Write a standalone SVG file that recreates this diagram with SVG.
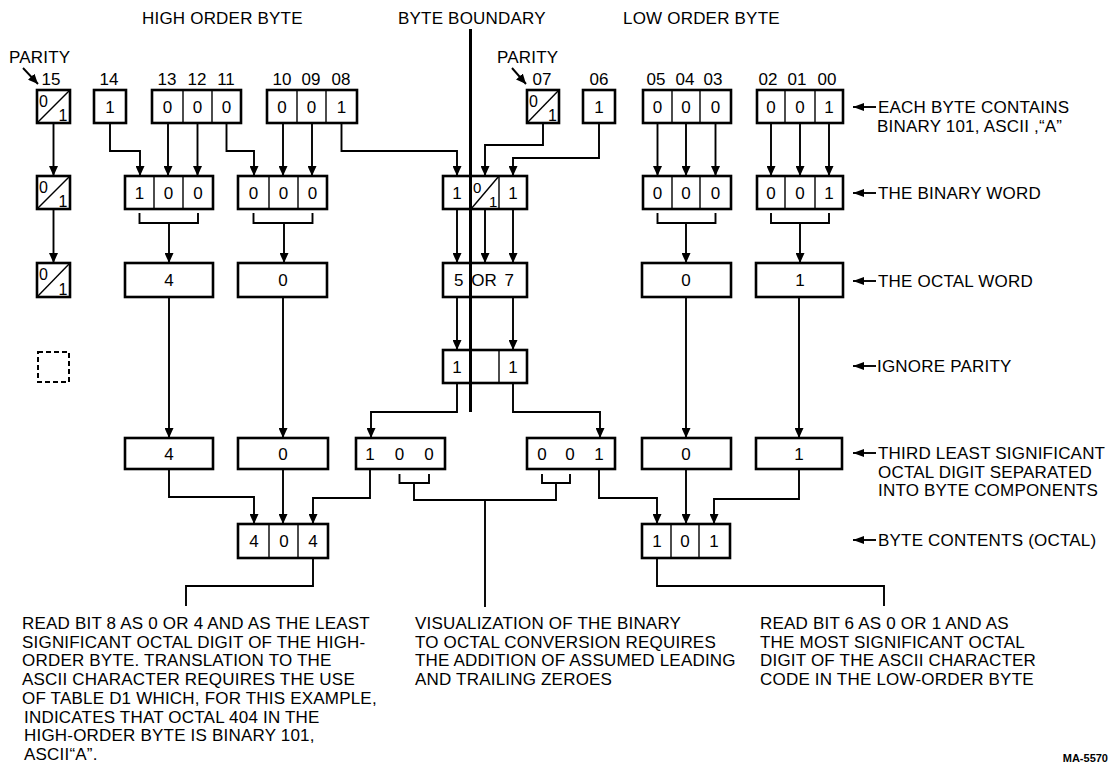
<svg xmlns="http://www.w3.org/2000/svg" width="1111" height="768" viewBox="0 0 1111 768">
<defs>
<marker id="ah" markerUnits="userSpaceOnUse" markerWidth="10" markerHeight="9" refX="10" refY="4.5" orient="auto"><path d="M0,0 L10,4.5 L0,9 z" fill="#000"/></marker>
<marker id="lh" markerUnits="userSpaceOnUse" markerWidth="11" markerHeight="8" refX="11" refY="4" orient="auto"><path d="M0,0 L11,4 L0,8 z" fill="#000"/></marker>
<style>
.bx{fill:none;stroke:#000;stroke-width:2.6}
.dv{stroke:#000;stroke-width:1.4}
.dash{fill:none;stroke:#000;stroke-width:2;stroke-dasharray:5,3}
.cn{fill:none;stroke:#000;stroke-width:1.9}
.ar{marker-end:url(#ah)}
.la{fill:none;stroke:#000;stroke-width:1.9;marker-end:url(#lh)}
.bb{fill:none;stroke:#000;stroke-width:3}
text{font-family:"Liberation Sans",Arial,Helvetica,sans-serif;fill:#000}
.t{font-size:17px;letter-spacing:0.2px}
.n{font-size:17px;text-anchor:middle}
.s{font-size:16px}
.sm{font-size:15px}
.id{font-size:11px;font-weight:bold;text-anchor:end}
</style>
</defs>
<rect width="1111" height="768" fill="#fff"/>

<g id="titles">
<text class="t" x="142" y="24">HIGH ORDER BYTE</text>
<text class="t" x="398" y="24">BYTE BOUNDARY</text>
<text class="t" x="623" y="24">LOW ORDER BYTE</text>
<text class="t" x="9" y="63">PARITY</text>
<text class="t" x="497" y="63">PARITY</text>
</g>

<g id="bit-numbers">
<text class="n" x="51" y="85">15</text>
<text class="n" x="109" y="85">14</text>
<text class="n" x="167" y="85">13</text>
<text class="n" x="197" y="85">12</text>
<text class="n" x="226" y="85">11</text>
<text class="n" x="282" y="85">10</text>
<text class="n" x="311" y="85">09</text>
<text class="n" x="341" y="85">08</text>
<text class="n" x="542" y="85">07</text>
<text class="n" x="599" y="85">06</text>
<text class="n" x="656" y="85">05</text>
<text class="n" x="685" y="85">04</text>
<text class="n" x="713" y="85">03</text>
<text class="n" x="768" y="85">02</text>
<text class="n" x="797" y="85">01</text>
<text class="n" x="827" y="85">00</text>
</g>

<!-- Row 1 -->
<g id="b15"><rect class="bx" x="37" y="90" width="33" height="33"/><line class="dv" x1="37" y1="123" x2="70" y2="90"/><text class="s" x="39" y="107">0</text><text class="s" x="58.5" y="120.5">1</text></g>
<g id="b14"><rect class="bx" x="94" y="90" width="32" height="33"/><text class="n" x="110" y="112.6">1</text></g>
<g id="b13-11"><rect class="bx" x="152" y="90" width="89" height="33"/><line class="dv" x1="183" y1="90" x2="183" y2="123"/><line class="dv" x1="212" y1="90" x2="212" y2="123"/><text class="n" x="167.5" y="112.6">0</text><text class="n" x="197.5" y="112.6">0</text><text class="n" x="226.5" y="112.6">0</text></g>
<g id="b10-08"><rect class="bx" x="267" y="90" width="90" height="33"/><line class="dv" x1="297" y1="90" x2="297" y2="123"/><line class="dv" x1="326" y1="90" x2="326" y2="123"/><text class="n" x="282" y="112.6">0</text><text class="n" x="311.5" y="112.6">0</text><text class="n" x="341.5" y="112.6">1</text></g>
<g id="b07"><rect class="bx" x="527" y="90" width="32" height="33"/><line class="dv" x1="527" y1="123" x2="559" y2="90"/><text class="s" x="529" y="107">0</text><text class="s" x="548" y="120.5">1</text></g>
<g id="b06"><rect class="bx" x="583" y="90" width="32" height="33"/><text class="n" x="599" y="112.6">1</text></g>
<g id="b05-03"><rect class="bx" x="643" y="90" width="88" height="33"/><line class="dv" x1="672" y1="90" x2="672" y2="123"/><line class="dv" x1="700" y1="90" x2="700" y2="123"/><text class="n" x="657.5" y="112.6">0</text><text class="n" x="686" y="112.6">0</text><text class="n" x="715.5" y="112.6">0</text></g>
<g id="b02-00"><rect class="bx" x="757" y="90" width="86" height="33"/><line class="dv" x1="785" y1="90" x2="785" y2="123"/><line class="dv" x1="815" y1="90" x2="815" y2="123"/><text class="n" x="771" y="112.6">0</text><text class="n" x="800" y="112.6">0</text><text class="n" x="829" y="112.6">1</text></g>

<!-- Row 2 -->
<g id="p2"><rect class="bx" x="37" y="176" width="33" height="33"/><line class="dv" x1="37" y1="209" x2="70" y2="176"/><text class="s" x="39" y="193">0</text><text class="s" x="58.5" y="206.5">1</text></g>
<g id="bw-a"><rect class="bx" x="125" y="176" width="88" height="33"/><line class="dv" x1="154" y1="176" x2="154" y2="209"/><line class="dv" x1="183" y1="176" x2="183" y2="209"/><text class="n" x="139.5" y="198.6">1</text><text class="n" x="168.5" y="198.6">0</text><text class="n" x="198" y="198.6">0</text></g>
<g id="bw-b"><rect class="bx" x="238" y="176" width="89" height="33"/><line class="dv" x1="269" y1="176" x2="269" y2="209"/><line class="dv" x1="298" y1="176" x2="298" y2="209"/><text class="n" x="253.5" y="198.6">0</text><text class="n" x="283.5" y="198.6">0</text><text class="n" x="312.5" y="198.6">0</text></g>
<g id="bw-m"><rect class="bx" x="443" y="176" width="84" height="33"/><line class="dv" x1="499" y1="176" x2="499" y2="209"/><line class="dv" x1="471" y1="209" x2="499" y2="176"/><text class="n" x="457" y="198.6">1</text><text class="sm" x="473" y="192.5">0</text><text class="sm" x="489" y="206.5">1</text><text class="n" x="513" y="198.6">1</text></g>
<g id="bw-c"><rect class="bx" x="643" y="176" width="88" height="33"/><line class="dv" x1="672" y1="176" x2="672" y2="209"/><line class="dv" x1="700" y1="176" x2="700" y2="209"/><text class="n" x="657.5" y="198.6">0</text><text class="n" x="686" y="198.6">0</text><text class="n" x="715.5" y="198.6">0</text></g>
<g id="bw-d"><rect class="bx" x="757" y="176" width="86" height="33"/><line class="dv" x1="785" y1="176" x2="785" y2="209"/><line class="dv" x1="815" y1="176" x2="815" y2="209"/><text class="n" x="771" y="198.6">0</text><text class="n" x="800" y="198.6">0</text><text class="n" x="829" y="198.6">1</text></g>

<!-- Row 3 -->
<g id="p3"><rect class="bx" x="37" y="263" width="33" height="34"/><line class="dv" x1="37" y1="297" x2="70" y2="263"/><text class="s" x="39" y="280">0</text><text class="s" x="58.5" y="294.5">1</text></g>
<g id="ow-4"><rect class="bx" x="125" y="263" width="88" height="34"/><text class="n" x="169" y="286">4</text></g>
<g id="ow-0"><rect class="bx" x="238" y="263" width="89" height="34"/><text class="n" x="283" y="286">0</text></g>
<g id="ow-57"><rect class="bx" x="443" y="263" width="84" height="34"/><text class="n" x="484" y="286" word-spacing="3">5 OR 7</text></g>
<g id="ow-0l"><rect class="bx" x="642" y="263" width="89" height="34"/><text class="n" x="686" y="286">0</text></g>
<g id="ow-1l"><rect class="bx" x="756" y="263" width="87" height="34"/><text class="n" x="800" y="286">1</text></g>

<!-- Row 4 -->
<g id="p4"><rect class="dash" x="38" y="352" width="31" height="30"/></g>
<g id="ip"><rect class="bx" x="443" y="350" width="84" height="33"/><line class="dv" x1="499" y1="350" x2="499" y2="383"/><text class="n" x="457" y="372.6">1</text><text class="n" x="513" y="372.6">1</text></g>

<!-- Row 5 -->
<g id="t-4"><rect class="bx" x="125" y="438" width="88" height="31"/><text class="n" x="169" y="459.6">4</text></g>
<g id="t-0"><rect class="bx" x="238" y="438" width="90" height="31"/><text class="n" x="283" y="459.6">0</text></g>
<g id="t-100"><rect class="bx" x="356" y="438" width="89" height="31"/><text class="n" x="370" y="459.6">1</text><text class="n" x="399.5" y="459.6">0</text><text class="n" x="429" y="459.6">0</text></g>
<g id="t-001"><rect class="bx" x="527" y="438" width="88" height="31"/><text class="n" x="542" y="459.6">0</text><text class="n" x="570" y="459.6">0</text><text class="n" x="599" y="459.6">1</text></g>
<g id="t-0l"><rect class="bx" x="642" y="438" width="89" height="31"/><text class="n" x="686" y="459.6">0</text></g>
<g id="t-1l"><rect class="bx" x="756" y="438" width="86" height="31"/><text class="n" x="799" y="459.6">1</text></g>

<!-- Row 6 -->
<g id="bc-404"><rect class="bx" x="238" y="524" width="90" height="34"/><line class="dv" x1="269" y1="524" x2="269" y2="558"/><line class="dv" x1="298" y1="524" x2="298" y2="558"/><text class="n" x="254" y="547">4</text><text class="n" x="284" y="547">0</text><text class="n" x="313" y="547">4</text></g>
<g id="bc-101"><rect class="bx" x="642" y="524" width="88" height="34"/><line class="dv" x1="671" y1="524" x2="671" y2="558"/><line class="dv" x1="699" y1="524" x2="699" y2="558"/><text class="n" x="657" y="547">1</text><text class="n" x="685" y="547">0</text><text class="n" x="714" y="547">1</text></g>

<g id="connectors">
<path class="bb" d="M470.5,29 V412"/>
<path class="cn ar" d="M23,68 L38,84"/>
<path class="cn ar" d="M512,68 L526,84"/>
<!-- row1 to row2 -->
<path class="cn ar" d="M53.5,123 V176"/>
<path class="cn ar" d="M110,123 V151 H140 V176"/>
<path class="cn ar" d="M168,123 V176"/>
<path class="cn ar" d="M197.5,123 V176"/>
<path class="cn ar" d="M226.5,123 V151 H254 V176"/>
<path class="cn ar" d="M283,123 V176"/>
<path class="cn ar" d="M312,123 V176"/>
<path class="cn ar" d="M341.5,123 V151 H457 V176"/>
<path class="cn ar" d="M543,123 V145 H485 V176"/>
<path class="cn ar" d="M599,123 V158 H513 V176"/>
<path class="cn ar" d="M657.5,123 V176"/>
<path class="cn ar" d="M686,123 V176"/>
<path class="cn ar" d="M715.5,123 V176"/>
<path class="cn ar" d="M771,123 V176"/>
<path class="cn ar" d="M800,123 V176"/>
<path class="cn ar" d="M829,123 V176"/>
<!-- row2 to row3 -->
<path class="cn ar" d="M53.5,209 V263"/>
<path class="cn" d="M139.5,213 V223 H198 V213"/>
<path class="cn ar" d="M169,223 V263"/>
<path class="cn" d="M253.5,213 V223 H312.5 V213"/>
<path class="cn ar" d="M284,223 V263"/>
<path class="cn ar" d="M457,209 V263"/>
<path class="cn ar" d="M485,209 V263"/>
<path class="cn ar" d="M513,209 V263"/>
<path class="cn" d="M657.5,213 V223 H715.5 V213"/>
<path class="cn ar" d="M686,223 V263"/>
<path class="cn" d="M771,213 V223 H829 V213"/>
<path class="cn ar" d="M800,223 V263"/>
<!-- row3 onward -->
<path class="cn ar" d="M457,297 V350"/>
<path class="cn ar" d="M513,297 V350"/>
<path class="cn ar" d="M169,297 V438"/>
<path class="cn ar" d="M283,297 V438"/>
<path class="cn ar" d="M686,297 V438"/>
<path class="cn ar" d="M799,297 V438"/>
<path class="cn ar" d="M457,383 V412 H371 V438"/>
<path class="cn ar" d="M513,383 V412 H600 V438"/>
<!-- row5 to row6 -->
<path class="cn ar" d="M169,469 V497 H254 V524"/>
<path class="cn ar" d="M283,469 V524"/>
<path class="cn ar" d="M370,469 V498 H313 V524"/>
<path class="cn ar" d="M599,469 V498 H657 V524"/>
<path class="cn ar" d="M686,469 V524"/>
<path class="cn ar" d="M799,469 V499 H714 V524"/>
<path class="cn" d="M399.5,474 V483 H429 V474"/>
<path class="cn" d="M542,474 V483 H570 V474"/>
<path class="cn" d="M414,483 V500 H556 V483"/>
<path class="cn" d="M485,500 V607"/>
<path class="cn" d="M313,558 V586 H186 V606"/>
<path class="cn" d="M657,558 V586 H884 V606"/>
<!-- side label arrows -->
<path class="la" d="M876,107 H853"/>
<path class="la" d="M876,193 H853"/>
<path class="la" d="M876,281 H853"/>
<path class="la" d="M876,366 H853"/>
<path class="la" d="M876,453 H853"/>
<path class="la" d="M876,540 H853"/>
</g>

<g id="side-labels">
<text class="t" x="878" y="113">EACH BYTE CONTAINS</text>
<text class="t" x="877" y="132">BINARY 101, ASCII ,“A”</text>
<text class="t" x="878" y="199">THE BINARY WORD</text>
<text class="t" x="878" y="287">THE OCTAL WORD</text>
<text class="t" x="877" y="372">IGNORE PARITY</text>
<text class="t" x="878" y="459">THIRD LEAST SIGNIFICANT</text>
<text class="t" x="878" y="477.5">OCTAL DIGIT SEPARATED</text>
<text class="t" x="878" y="496">INTO BYTE COMPONENTS</text>
<text class="t" x="878" y="546">BYTE CONTENTS (OCTAL)</text>
</g>

<g id="note-left">
<text class="t" x="22" y="629">READ BIT 8 AS 0 OR 4 AND AS THE LEAST</text>
<text class="t" x="22" y="647.7">SIGNIFICANT OCTAL DIGIT OF THE HIGH-</text>
<text class="t" x="22" y="666.4">ORDER BYTE. TRANSLATION TO THE</text>
<text class="t" x="22" y="685.1">ASCII CHARACTER REQUIRES THE USE</text>
<text class="t" x="22" y="703.8">OF TABLE D1 WHICH, FOR THIS EXAMPLE,</text>
<text class="t" x="24" y="722.5">INDICATES THAT OCTAL 404 IN THE</text>
<text class="t" x="24" y="741.2">HIGH-ORDER BYTE IS BINARY 101,</text>
<text class="t" x="24" y="759.9">ASCII“A”.</text>
</g>
<g id="note-middle">
<text class="t" x="415" y="629">VISUALIZATION OF THE BINARY</text>
<text class="t" x="415" y="647.7">TO OCTAL CONVERSION REQUIRES</text>
<text class="t" x="415" y="666.4">THE ADDITION OF ASSUMED LEADING</text>
<text class="t" x="415" y="685.1">AND TRAILING ZEROES</text>
</g>
<g id="note-right">
<text class="t" x="760" y="629">READ BIT 6 AS 0 OR 1 AND AS</text>
<text class="t" x="760" y="647.7">THE MOST SIGNIFICANT OCTAL</text>
<text class="t" x="760" y="666.4">DIGIT OF THE ASCII CHARACTER</text>
<text class="t" x="760" y="685.1">CODE IN THE LOW-ORDER BYTE</text>
</g>
<text class="id" x="1108" y="762">MA-5570</text>
</svg>
